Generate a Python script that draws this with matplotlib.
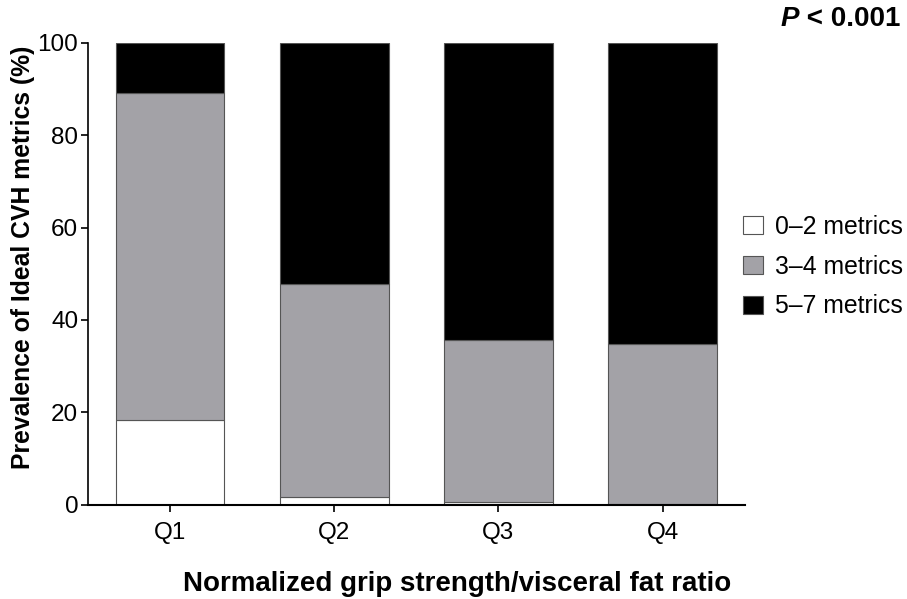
import numpy as np
import matplotlib.pyplot as plt
from matplotlib.patches import Patch

plt.rcParams['font.family'] = ['Liberation Sans', 'DejaVu Sans']

# Data (percent)
quartiles = ['Q1', 'Q2', 'Q3', 'Q4']
low = [18.3, 1.8, 0.7, 0.2]        # 0-2 metrics
mid = [70.7, 45.9, 35.0, 34.6]     # 3-4 metrics
high = [11.0, 52.3, 64.3, 65.2]    # 5-7 metrics
labels = ['0\u20132 metrics', '3\u20134 metrics', '5\u20137 metrics']
colors = ['white', '#a3a2a7', 'black']

fig = plt.figure(figsize=(9.07, 5.99), dpi=100)
ax = fig.add_axes([0.097, 0.157, 0.724, 0.772])

x = np.arange(len(quartiles))
w = 0.663
bottom = np.zeros(len(quartiles))
for vals, c in zip([low, mid, high], colors):
    ax.bar(x, vals, w, bottom=bottom, color=c, edgecolor='#555555', linewidth=0.8)
    bottom += np.array(vals)

ax.set_xlim(-0.5, 3.5)
ax.set_ylim(0, 100)
ax.set_yticks([0, 20, 40, 60, 80, 100])
ax.set_xticks(x)
ax.set_xticklabels(quartiles)
ax.tick_params(labelsize=17.5, width=1.2, length=5, color='black')
ax.tick_params(axis='y', pad=2)
ax.tick_params(axis='x', pad=7)
ax.spines['top'].set_visible(False)
ax.spines['right'].set_visible(False)
ax.spines['left'].set_linewidth(1.2)
ax.spines['bottom'].set_linewidth(1.5)

ax.set_ylabel('Prevalence of Ideal CVH metrics (%)', fontsize=17.8, fontweight='bold')
ax.yaxis.set_label_coords(-0.081, 0.536)
ax.set_xlabel('Normalized grip strength/visceral fat ratio', fontsize=20, fontweight='bold')
ax.xaxis.set_label_coords(0.562, -0.143)

handles = [Patch(facecolor=c, edgecolor='#555555', linewidth=0.8) for c in colors]
fig.legend(handles, labels, loc='center left', bbox_to_anchor=(0.808, 0.555),
           frameon=False, fontsize=17.8, handlelength=0.8, handleheight=0.75,
           labelspacing=0.64, handletextpad=0.5, borderaxespad=0)

ptxt = fig.text(0.86, 0.968, 'P', fontsize=20, fontweight='bold', style='italic',
                ha='left', va='center')
ax.annotate(' < 0.001', xy=(1, 0), xycoords=ptxt, fontsize=20, fontweight='bold',
            ha='left', va='bottom', annotation_clip=False)

fig.savefig('out.png', dpi=100)
